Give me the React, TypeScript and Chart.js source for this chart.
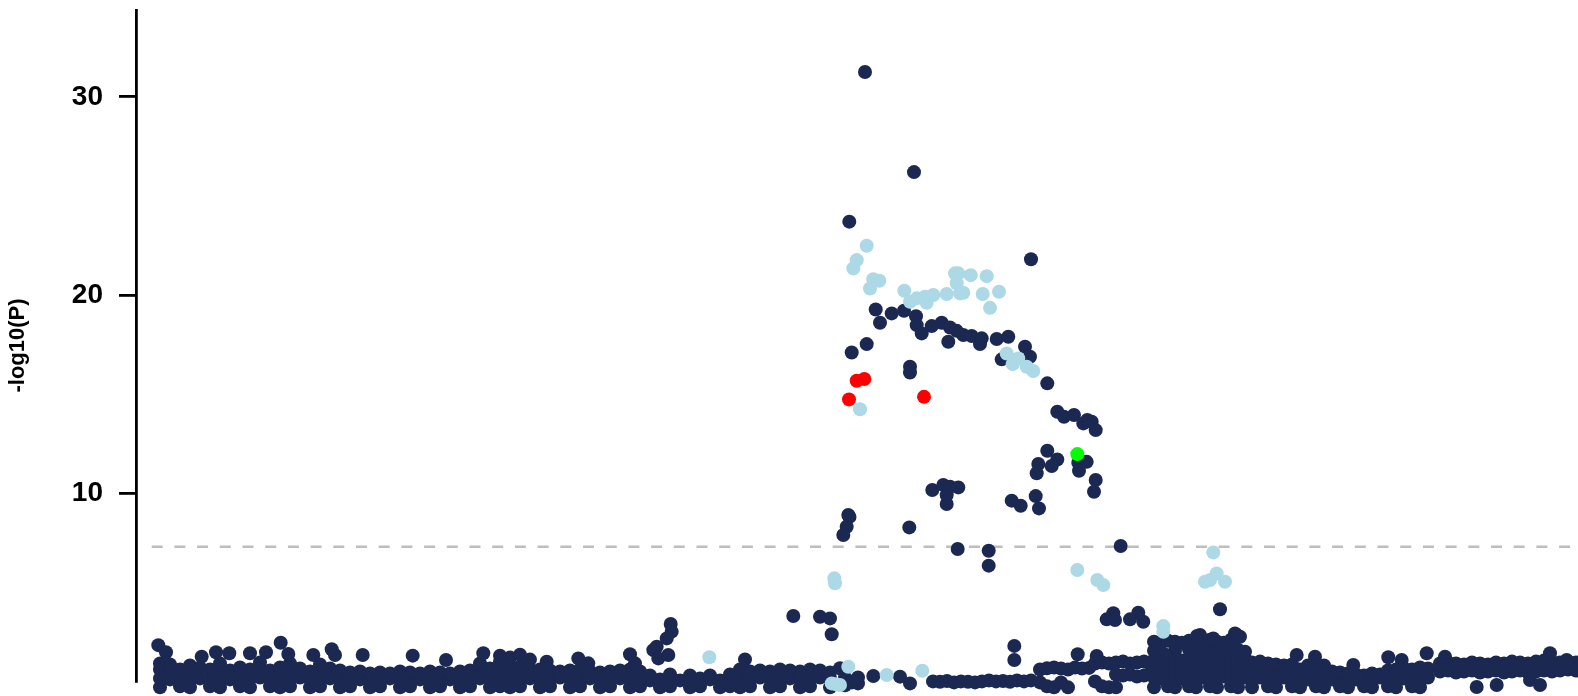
import { useEffect, useRef } from 'react';
import { Chart, registerables } from 'chart.js';

Chart.register(...registerables);

// Dense navy band: [position, -log10(P) values stacked at that position...]
const navyBandColumns: number[][] = [
  [160, 0.2, 0.65, 1.1, 1.4], [170, 0.15, 0.6, 1.05, 1.35], [180, 0.25, 0.7, 1.1], [190, 0.2, 0.6, 1.0, 1.3],
  [200, 0.15, 0.65, 1.2], [210, 0.25, 0.65, 1.1], [220, 0.2, 0.7, 1.15, 1.4], [230, 0.15, 0.6, 1.05],
  [240, 0.25, 0.7, 1.2], [250, 0.2, 0.65, 1.1], [260, 0.15, 0.7, 1.15, 1.45], [270, 0.25, 0.6, 1.05],
  [280, 0.2, 0.7, 1.2], [290, 0.25, 0.65, 1.1, 1.4], [300, 0.15, 0.7, 1.15], [310, 0.2, 0.6, 1.0],
  [320, 0.25, 0.7, 1.1, 1.35], [330, 0.15, 0.65, 1.15], [340, 0.2, 0.6, 1.05], [350, 0.25, 0.7, 0.95],
  [360, 0.15, 0.6, 1.0], [370, 0.2, 0.7, 0.9], [380, 0.25, 0.6, 0.95], [390, 0.15, 0.65, 0.9],
  [400, 0.2, 0.6, 1.0], [410, 0.25, 0.7, 0.95], [420, 0.15, 0.6, 0.9], [430, 0.2, 0.65, 1.0],
  [440, 0.25, 0.7, 0.95], [450, 0.15, 0.6, 0.9], [460, 0.2, 0.65, 1.0], [470, 0.25, 0.7, 1.05],
  [480, 0.15, 0.65, 1.1, 1.4], [490, 0.2, 0.7, 1.15], [500, 0.25, 0.75, 1.2, 1.5],
  [510, 0.2, 0.7, 1.2, 1.7], [520, 0.25, 0.75, 1.25, 1.85], [530, 0.15, 0.65, 1.1, 1.6], [540, 0.2, 0.7, 1.1],
  [550, 0.25, 0.65, 1.05], [560, 0.15, 0.7, 1.0], [570, 0.2, 0.6, 1.05], [580, 0.25, 0.7, 1.1],
  [590, 0.15, 0.65, 1.0], [600, 0.2, 0.7, 0.95], [610, 0.25, 0.6, 1.0], [620, 0.15, 0.65, 1.05],
  [630, 0.2, 0.7, 1.1], [640, 0.25, 0.6, 1.0],
  [650, 0.15, 0.55, 0.8], [660, 0.2, 0.6], [670, 0.25, 0.65, 0.85], [680, 0.15, 0.55], [690, 0.2, 0.6, 0.8],
  [700, 0.25, 0.65], [710, 0.15, 0.6, 0.8], [720, 0.2, 0.55], [730, 0.25, 0.65, 0.85],
  [740, 0.2, 0.7, 1.1], [750, 0.25, 0.65, 1.0], [760, 0.15, 0.7, 1.05], [770, 0.2, 0.6, 1.0],
  [780, 0.25, 0.7, 1.1], [790, 0.15, 0.65, 1.05], [800, 0.2, 0.7, 1.0], [810, 0.25, 0.6, 1.1],
  [820, 0.15, 0.7, 1.05], [830, 0.2, 0.65, 0.95],
  [845, 0.3, 0.7], [852, 0.45], [858, 0.4, 0.7], [873.3, 0.77], [900, 0.74], [910, 0.4],
  [933, 0.5], [940, 0.48], [947, 0.52], [954, 0.45], [961, 0.5], [968, 0.48], [975, 0.45], [982, 0.5],
  [989, 0.55], [996, 0.5], [1003, 0.52], [1010, 0.48], [1017, 0.55], [1024, 0.5], [1031, 0.55],
  [1040, 0.45, 1.1], [1047, 0.25, 1.16], [1054, 0.2, 1.2], [1061, 0.45, 1.15], [1068, 0.2, 1.1],
  [1075, 1.2], [1082, 1.15], [1089, 1.18],
  [1095, 0.5, 1.4], [1102, 0.25, 1.45], [1109, 0.2, 1.4], [1116, 0.2, 0.85, 1.45], [1123, 0.8, 1.5],
  [1130, 0.85, 1.4], [1137, 0.75, 1.45], [1144, 0.8, 1.5], [1150, 0.85, 1.4],
  [1154, 0.2, 0.7, 1.15, 1.6, 2.05, 2.5], [1161, 0.15, 0.65, 1.1, 1.55, 2.45], [1168, 0.25, 0.75, 1.2, 1.65, 2.55],
  [1175, 0.2, 0.7, 1.15, 1.6, 2.05, 2.5], [1182, 0.15, 0.65, 1.1, 1.55, 2.45], [1189, 0.25, 0.7, 1.15, 1.6, 2.1, 2.55],
  [1196, 0.2, 0.75, 1.2, 1.65, 2.05, 2.6], [1203, 0.15, 0.7, 1.15, 1.6, 2.0, 2.5], [1210, 0.25, 0.65, 1.1, 1.55, 2.05, 2.6],
  [1217, 0.2, 0.7, 1.2, 1.65, 2.1, 2.5], [1224, 0.15, 0.75, 1.15, 1.6, 2.0, 2.45], [1231, 0.25, 0.7, 1.1, 1.55, 2.05, 2.6],
  [1238, 0.2, 0.65, 1.15, 1.6, 2.1], [1245, 0.15, 0.7, 1.2, 1.65, 2.0],
  [1252, 0.2, 0.65, 1.05, 1.45], [1260, 0.15, 0.7, 1.1, 1.5], [1268, 0.25, 0.65, 1.05, 1.4], [1276, 0.2, 0.6, 1.1, 1.35],
  [1284, 0.15, 0.7, 1.05, 1.3], [1292, 0.25, 0.65, 1.0, 1.35], [1300, 0.2, 0.7, 1.1], [1308, 0.15, 0.6, 1.05, 1.3],
  [1316, 0.25, 0.65, 1.1], [1324, 0.2, 0.7, 1.05, 1.3], [1332, 0.15, 0.6, 1.0], [1340, 0.25, 0.65, 0.95],
  [1348, 0.2, 0.7, 0.9], [1356, 0.15, 0.6, 0.85], [1364, 0.25, 0.65, 0.8], [1372, 0.2, 0.6, 0.9],
  [1380, 0.15, 0.7, 0.85], [1388, 0.25, 0.65, 1.05], [1396, 0.2, 0.7, 1.1], [1404, 0.15, 0.65, 1.15],
  [1412, 0.25, 0.7, 1.1], [1420, 0.2, 0.6, 1.2], [1428, 0.15, 0.7, 1.15],
  [1440, 1.0, 1.4], [1448, 1.05, 1.45], [1456, 0.95, 1.4], [1464, 1.0, 1.35], [1472, 1.05, 1.45],
  [1480, 0.95, 1.4], [1488, 1.0, 1.35], [1496, 1.05, 1.45], [1504, 0.95, 1.4], [1512, 1.0, 1.5],
  [1520, 1.05, 1.45], [1528, 0.95, 1.4], [1536, 1.0, 1.5], [1544, 1.05, 1.55], [1552, 1.0, 1.5],
  [1560, 1.05, 1.45], [1568, 1.1, 1.5], [1576, 1.05, 1.45],
];

// Individual navy SNPs: [position, -log10(P)]
const navyPoints: number[][] = [
  [865, 31.25], [914, 26.2], [849.3, 23.7], [1031, 21.8],
  [875.7, 19.27], [891.7, 19.07], [880, 18.6], [904, 19.2], [916, 18.93], [916.7, 18.48], [921.7, 18.06],
  [931.7, 18.43], [941.7, 18.6], [950, 18.36], [956.7, 18.19], [963.3, 17.98], [971.7, 17.93], [981.7, 17.81],
  [980, 17.52], [948.3, 17.64], [996.7, 17.78], [1008.3, 17.89], [1025, 17.39], [1030, 16.88], [1001.7, 16.75],
  [851.7, 17.1], [866.7, 17.52], [910, 16.38], [910, 16.09],
  [1047.3, 15.54], [1057.3, 14.11], [1064, 13.85], [1074, 13.94], [1083.3, 13.52], [1087.3, 13.69],
  [1091.7, 13.6], [1095.7, 13.18], [1047.3, 12.14], [1057.3, 11.7], [1051.7, 11.37], [1038.3, 11.47],
  [1036.7, 11.0], [1078.3, 11.53], [1086.7, 11.58], [1079, 11.13], [1095.7, 10.66], [1094, 10.07],
  [1035.7, 9.85], [1011.7, 9.62], [1020.7, 9.36], [1039, 9.23], [1120.7, 7.33],
  [932.3, 10.16], [943.3, 10.41], [950, 10.32], [958.3, 10.29], [946.7, 9.9], [946.7, 9.45],
  [848.3, 8.9], [849.5, 8.8], [846.7, 8.3], [843.3, 7.89], [909.3, 8.27], [957.7, 7.18], [988.7, 7.09], [988.7, 6.34],
  [793.3, 3.8], [820, 3.76], [830, 3.68], [831.7, 2.88], [1014.3, 2.29], [1014.3, 1.58],
  [1220, 4.14], [1113.3, 3.94], [1106.7, 3.63], [1115, 3.6], [1138.3, 3.97], [1130, 3.63], [1143.3, 3.51],
  [1077.7, 1.87], [1096.7, 1.78], [1164.3, 1.87],
  [1235, 2.92], [1240, 2.75], [1200, 2.84], [1213.3, 2.67], [1197, 2.79], [1236.7, 2.84],
  [670.7, 3.4], [671.7, 3.01], [666.7, 2.67], [656.7, 2.25], [653.3, 2.08], [658.3, 1.66], [668.3, 1.83],
  [630, 1.87], [635, 1.41], [745, 1.61], [578.3, 1.66], [546.7, 1.49], [588.3, 1.41], [840, 1.16],
  [158.3, 2.33], [166, 1.97], [201.7, 1.75], [216, 1.97], [229.3, 1.92], [250, 1.92], [266, 1.97],
  [280.7, 2.45], [288.3, 1.88], [313.3, 1.83], [331.7, 2.12], [335, 1.83], [362.7, 1.83], [412.7, 1.8],
  [446, 1.58], [483.3, 1.92], [500, 1.8],
  [1296.7, 1.83], [1315, 1.75], [1353.3, 1.33], [1388.3, 1.72], [1401.7, 1.58], [1426.7, 1.92],
  [1436.7, 0.15], [1445, 1.75], [1550, 1.92], [1566.7, 1.58], [1476.7, 0.22], [1496.7, 0.32], [1530, 0.57], [1540, 0.32],
];

const lightBluePoints: number[][] = [
  [866.7, 22.48], [856.7, 21.76], [853.3, 21.34], [873.3, 20.79], [879.3, 20.72], [870, 20.33],
  [904.3, 20.21], [910, 19.66], [916.7, 19.83], [925, 19.91], [926.7, 19.61], [933.3, 20.0], [946.7, 20.05],
  [955, 21.09], [958.3, 21.09], [956.7, 20.59], [960, 20.08], [963.3, 20.11], [970.7, 21.0], [986.7, 20.95],
  [982.7, 20.05], [990, 19.35], [999, 20.16],
  [1006.7, 17.05], [1012.7, 16.51], [1018.3, 16.8], [1026.7, 16.38], [1033.3, 16.16],
  [860, 14.23], [834.3, 5.7], [835, 5.45], [848.3, 1.24], [886.7, 0.82], [922.3, 1.04],
  [831.7, 0.4], [840, 0.32], [836, 0.35],
  [1077.3, 6.12], [1097.3, 5.62], [1103.3, 5.36], [1213.3, 7.01], [1205, 5.53], [1216.7, 5.95],
  [1225, 5.53], [1210, 5.62], [1163.3, 3.29], [1163.3, 3.0], [709.3, 1.72],
];

const redPoints: number[][] = [[856.7, 15.67], [864.3, 15.76], [849, 14.73], [924, 14.86]];
const greenPoints: number[][] = [[1077.3, 11.97]];

const yTickValues = [10, 20, 30];
const thresholdLogP = 7.3;
const thresholdSpan = [151.7, 1578];

const FONT = '"Liberation Sans", Arial, Helvetica, sans-serif';

export default function App() {
  const ref = useRef<HTMLCanvasElement>(null);

  useEffect(() => {
    document.body.style.margin = '0';
    const toPts = (arr: number[][]) => arr.map(([x, y]) => ({ x, y }));
    const bandPts: { x: number; y: number }[] = [];
    navyBandColumns.forEach(([x, ...vals]) => vals.forEach((v) => bandPts.push({ x, y: v })));
    const navyAll = bandPts.concat(toPts(navyPoints));

    const ptOpts = { pointRadius: 7, pointHoverRadius: 7, pointBorderWidth: 0, clip: false as const };

    const chart = new Chart(ref.current as HTMLCanvasElement, {
      type: 'scatter',
      data: {
        datasets: [
          { label: 'green', data: toPts(greenPoints), backgroundColor: '#00ff00', order: 0, ...ptOpts },
          { label: 'red', data: toPts(redPoints), backgroundColor: '#ff0000', order: 1, ...ptOpts },
          { label: 'light', data: toPts(lightBluePoints), backgroundColor: '#add8e6', order: 2, ...ptOpts },
          { label: 'navy', data: navyAll, backgroundColor: '#1b2852', order: 3, ...ptOpts },
          {
            type: 'line',
            label: 'threshold',
            data: thresholdSpan.map((x) => ({ x, y: thresholdLogP })),
            borderColor: '#bebebe',
            borderWidth: 2.5,
            borderDash: [11, 11.7],
            pointRadius: 0,
            showLine: true,
            order: 10,
            clip: false,
          } as any,
        ],
      },
      options: {
        animation: false,
        responsive: false,
        devicePixelRatio: 1,
        events: [],
        layout: { autoPadding: false, padding: { top: 10, bottom: 15, left: 0, right: 0 } },
        plugins: { legend: { display: false }, tooltip: { enabled: false } },
        scales: {
          x: {
            type: 'linear',
            display: false,
            min: 136,
            max: 1578,
            ticks: { display: false },
            afterFit: (axis: any) => {
              axis.paddingLeft = 0;
              axis.paddingRight = 0;
            },
          },
          y: {
            type: 'linear',
            min: 0.52,
            max: 34.38,
            afterBuildTicks: (axis: any) => {
              axis.ticks = yTickValues.map((value) => ({ value }));
            },
            afterFit: (axis: any) => {
              axis.width = 136;
              axis.paddingTop = 0;
              axis.paddingBottom = 0;
            },
            ticks: {
              color: '#000',
              padding: 16,
              font: { family: FONT, size: 28, weight: 'bold' },
            },
            grid: {
              drawOnChartArea: false,
              drawTicks: true,
              tickLength: 17,
              tickColor: '#000',
              tickWidth: 2.8,
              color: '#000',
              lineWidth: 2.8,
            },
            border: { display: true, color: '#000', width: 2.8 },
            title: {
              display: true,
              text: '-log10(P)',
              color: '#000',
              font: { family: FONT, size: 22, weight: 'bold' },
              padding: { top: 5, bottom: 0 },
            },
          },
        },
      },
    } as any);
    return () => chart.destroy();
  }, []);

  return (
    <div style={{ width: 1578, height: 696 }}>
      <canvas ref={ref} width={1578} height={696} style={{ display: 'block' }} />
    </div>
  );
}
